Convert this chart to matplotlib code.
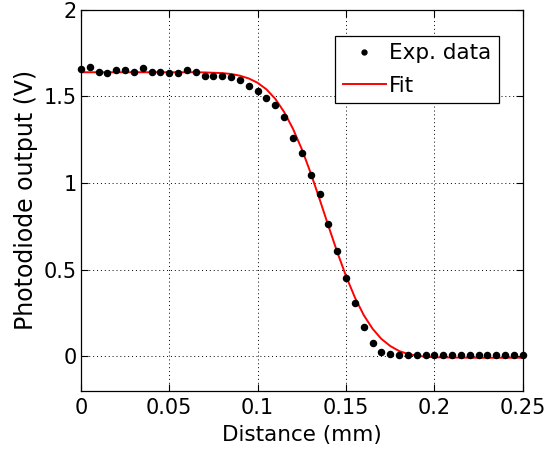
import numpy as np
import matplotlib
matplotlib.use("Agg")
import matplotlib.pyplot as plt

plt.rcParams['font.family'] = ['DejaVu Sans']

# measured points, 0.005 mm step
distance = [0.000, 0.005, 0.010, 0.015, 0.020, 0.025, 0.030, 0.035, 0.040, 0.045,
            0.050, 0.055, 0.060, 0.065, 0.070, 0.075, 0.080, 0.085, 0.090, 0.095,
            0.100, 0.105, 0.110, 0.115, 0.120, 0.125, 0.130, 0.135, 0.140, 0.145,
            0.150, 0.155, 0.160, 0.165, 0.170, 0.175, 0.180, 0.185, 0.190, 0.195,
            0.200, 0.205, 0.210, 0.215, 0.220, 0.225, 0.230, 0.235, 0.240, 0.245,
            0.250]
voltage = [1.659, 1.672, 1.643, 1.634, 1.653, 1.653, 1.640, 1.667, 1.640, 1.640,
           1.634, 1.634, 1.653, 1.642, 1.616, 1.620, 1.620, 1.615, 1.595, 1.561,
           1.529, 1.494, 1.449, 1.382, 1.258, 1.175, 1.046, 0.938, 0.763, 0.609,
           0.449, 0.305, 0.169, 0.073, 0.021, 0.012, 0.004, 0.003, 0.005, 0.005,
           0.005, 0.005, 0.004, 0.005, 0.005, 0.005, 0.005, 0.005, 0.005, 0.005,
           0.005]

# fit curve
fit_voltage = [1.640, 1.640, 1.640, 1.640, 1.640, 1.640, 1.640, 1.640, 1.640, 1.640,
               1.640, 1.640, 1.640, 1.640, 1.639, 1.637, 1.635, 1.630, 1.620, 1.604,
               1.579, 1.541, 1.486, 1.410, 1.313, 1.195, 1.058, 0.908, 0.753, 0.602,
               0.462, 0.339, 0.237, 0.158, 0.099, 0.058, 0.029, 0.012, 0.002, -0.004,
               -0.007, -0.008, -0.009, -0.009, -0.010, -0.010, -0.010, -0.010, -0.010, -0.010,
               -0.010]

fig = plt.figure(figsize=(5.47, 4.53), dpi=100)
ax = fig.add_axes([0.148, 0.1377, 0.8076, 0.8403])

ax.plot(distance, voltage, 'o', color='black', markersize=4.4, label='Exp. data', clip_on=False, zorder=3)
ax.plot(distance, fit_voltage, '-', color='#ff0000', linewidth=1.4, label='Fit', zorder=2)

ax.set_xlim(0, 0.25)
ax.set_ylim(-0.2, 2)
ax.set_xticks([0, 0.05, 0.1, 0.15, 0.2, 0.25])
ax.set_xticklabels(['0', '0.05', '0.1', '0.15', '0.2', '0.25'])
ax.set_yticks([0, 0.5, 1, 1.5, 2])
ax.set_yticklabels(['0', '0.5', '1', '1.5', '2'])
ax.grid(True, linestyle=(0, (1, 3)), color='black', linewidth=0.7)
ax.tick_params(direction='in', top=True, right=True, labelsize=15, length=5, width=0.8)
ax.tick_params(axis='x', pad=5)
ax.tick_params(axis='y', pad=3)
for s in ax.spines.values():
    s.set_linewidth(0.9)

ax.set_xlabel('Distance (mm)', fontsize=15.5, labelpad=5.5)
ax.set_ylabel('Photodiode output (V)', fontsize=17, labelpad=4)

leg = ax.legend(loc='upper right', bbox_to_anchor=(0.946, 0.932), borderaxespad=0,
                fontsize=15.5, fancybox=False, framealpha=1, edgecolor='black',
                handlelength=2.0, handletextpad=0.15, borderpad=0.35, labelspacing=0.58,
                markerscale=0.8)
leg.get_frame().set_linewidth(0.9)

fig.savefig('out.png', dpi=100)
